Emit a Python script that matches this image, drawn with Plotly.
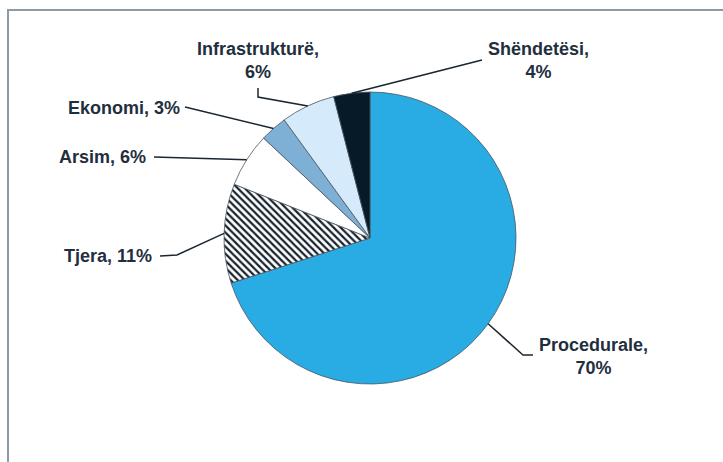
import math
import plotly.graph_objects as go

# ---- data ----
labels = ["Procedurale", "Tjera", "Arsim", "Ekonomi", "Infrastrukturë", "Shëndetësi"]
values = [70, 11, 6, 3, 6, 4]
label_texts = ["Procedurale,<br>70%", "Tjera, 11%", "Arsim, 6%", "Ekonomi, 3%",
               "Infrastrukturë,<br>6%", "Shëndetësi,<br>4%"]

# ---- styles ----
W, H = 723, 462
slice_colors = ["#29ABE4", "#ffffff", "#ffffff", "#7EB0D6", "#D5EAFA", "#061A28"]
patterns = ["", "\\", "", "", "", ""]
TXT = "#1F2F3E"
LINE = "#1B2631"

CX, CY, R = 370, 238, 146  # pie centre/radius in pixels


def px(x):
    return x / W


def py(y):
    return 1 - y / H


fig = go.Figure()
fig.add_trace(go.Pie(
    labels=labels, values=values, sort=False, direction="clockwise", rotation=0,
    textinfo="none", hoverinfo="label+percent",
    marker=dict(colors=slice_colors, line=dict(color="#4A5560", width=0.8),
                pattern=dict(shape=patterns, fgcolor="#16222E", bgcolor="#ffffff",
                             size=5, solidity=0.45)),
    domain=dict(x=[px(CX - R), px(CX + R)], y=[py(CY + R), py(CY - R)]),
    showlegend=False,
))

# mid-angle edge points from the data
total = sum(values)
edges = []
cum = 0
for v in values:
    mid = (cum + v / 2) / total * 2 * math.pi
    edges.append((CX + R * math.sin(mid), CY - R * math.cos(mid)))
    cum += v

# label anchors (pixels): x, y, xanchor
label_pos = [
    (593, 356, "center"),
    (154, 256, "right"),
    (148, 157, "right"),
    (182, 108, "right"),
    (258, 60, "center"),
    (538, 60, "center"),
]
leaders = [
    [("E",), (523, 355), (533, 355)],
    [(160, 256), (177, 255), ("E",)],
    [(154, 157), ("E",)],
    [(185, 107), ("E",)],
    [(258, 88), (258, 97), ("E",)],
    [(482, 60), ("E",)],
]

shapes = []
for i, pts in enumerate(leaders):
    coords = [edges[i] if p == ("E",) else p for p in pts]
    path = "M " + " L ".join(f"{px(x):.5f},{py(y):.5f}" for x, y in coords)
    shapes.append(dict(type="path", xref="paper", yref="paper", path=path,
                       line=dict(color=LINE, width=1.5)))

# frame
shapes.append(dict(type="rect", xref="paper", yref="paper",
                   x0=px(8), x1=px(760), y0=py(500), y1=py(10),
                   line=dict(color="#8C9BA6", width=2), layer="below"))

annotations = []
for t, (x, y, xa) in zip(label_texts, label_pos):
    annotations.append(dict(text=t, x=px(x), y=py(y), xref="paper", yref="paper",
                            xanchor=xa, yanchor="middle", showarrow=False, align="center",
                            font=dict(family="Liberation Sans, Arial", size=18, color=TXT,
                                      weight="bold")))

fig.update_layout(width=W, height=H, margin=dict(l=0, r=0, t=0, b=0),
                  paper_bgcolor="white", plot_bgcolor="white",
                  shapes=shapes, annotations=annotations)

fig.write_html("out.html", config={"displayModeBar": False})

# remove the browser's default page margin so the figure sits at (0, 0)
with open("out.html", encoding="utf-8") as f:
    html = f.read()
html = html.replace("<body>", '<body style="margin:0;padding:0;overflow:hidden">', 1)
with open("out.html", "w", encoding="utf-8") as f:
    f.write(html)
